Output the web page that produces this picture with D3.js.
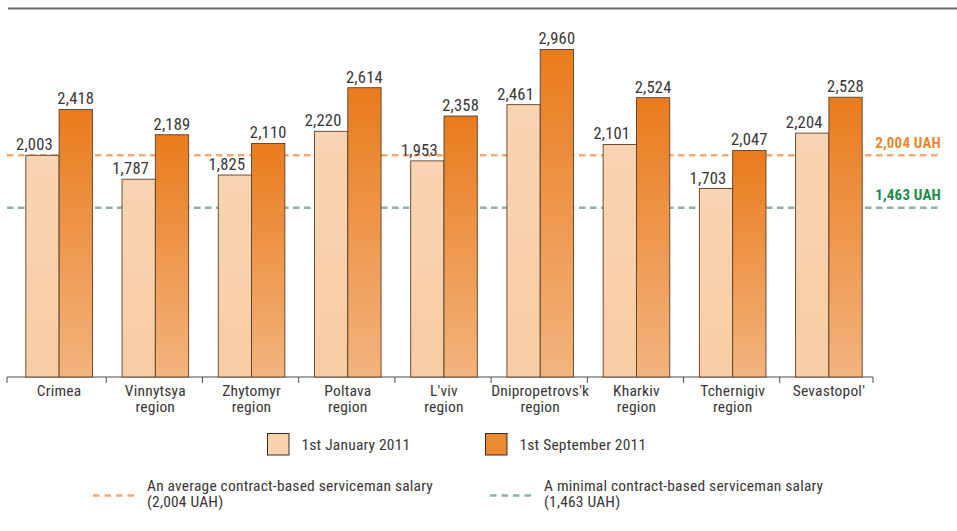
<!DOCTYPE html>
<html>
<head>
<meta charset="utf-8">
<script src="https://cdn.jsdelivr.net/npm/d3@7"></script>
<style>
  html, body { margin: 0; padding: 0; background: #fff; }
  svg { display: block; }
  text { font-family: "Liberation Sans Narrow", "Roboto Condensed", "DejaVu Sans Condensed", "Arial Narrow", sans-serif; fill: #3a3637; font-weight: 400; letter-spacing: 0.2px; }
</style>
</head>
<body>
<svg id="chart" width="957" height="531"></svg>
<script>
// ---- data ----
const categories = [
  ["Crimea"],
  ["Vinnytsya", "region"],
  ["Zhytomyr", "region"],
  ["Poltava", "region"],
  ["L'viv", "region"],
  ["Dnipropetrovs'k", "region"],
  ["Kharkiv", "region"],
  ["Tchernigiv", "region"],
  ["Sevastopol'"]
];
const jan2011 = [2003, 1787, 1825, 2220, 1953, 2461, 2101, 1703, 2204];
const sep2011 = [2418, 2189, 2110, 2614, 2358, 2960, 2524, 2047, 2528];
const seriesNames = ["1st January 2011", "1st September 2011"];
const avgSalary = 2004;      // average contract-based salary
const minSalary = 1463;      // minimal contract-based salary
const minLineDrawnAt = 1530; // level at which the reference draws the minimal line
const refLabels = ["2,004 UAH", "1,463 UAH"];
const refLegend = [
  ["An average contract-based serviceman salary", "(2,004 UAH)"],
  ["A minimal contract-based serviceman salary", "(1,463 UAH)"]
];

// ---- layout ----
const svg = d3.select("#chart");
const fmt = d3.format(",");
const x = d3.scaleBand().domain(d3.range(categories.length)).range([11, 877]).padding(0);
const axisRange = [7, 873];
const groupW = 66.6;
const y = d3.scaleLinear().domain([0, 3000]).range([377, 45]);

const defs = svg.append("defs");
const gL = defs.append("linearGradient").attr("id", "gLight").attr("x1", 0).attr("y1", 0).attr("x2", 0).attr("y2", 1);
gL.append("stop").attr("offset", "0%").attr("stop-color", "#f9d4b2");
gL.append("stop").attr("offset", "100%").attr("stop-color", "#f8cca3");
const gD = defs.append("linearGradient").attr("id", "gDark").attr("x1", 0).attr("y1", 0).attr("x2", 0).attr("y2", 1);
gD.append("stop").attr("offset", "0%").attr("stop-color", "#e97b1d");
gD.append("stop").attr("offset", "100%").attr("stop-color", "#f3b47e");

// top rule
svg.append("line").attr("x1", 8).attr("x2", 957).attr("y1", 8.5).attr("y2", 8.5)
  .attr("stroke", "#6a6a6a").attr("stroke-width", 2);

// axis
const axisG = svg.append("g");
axisG.append("line").attr("x1", axisRange[0]).attr("x2", axisRange[1]).attr("y1", y(0)).attr("y2", y(0))
  .attr("stroke", "#4d4d4d").attr("stroke-width", 1);
const tickPos = d3.range(categories.length + 1).map(i =>
  i === 0 ? axisRange[0] : (i === categories.length ? axisRange[1] : x(i) - 1));
axisG.selectAll("line.tick").data(tickPos).join("line").attr("class", "tick")
  .attr("x1", d => d).attr("x2", d => d).attr("y1", y(0)).attr("y2", y(0) + 6)
  .attr("stroke", "#4d4d4d").attr("stroke-width", 1);

const catG = svg.append("g");
categories.forEach((lines, i) => {
  const cx = x(i) + x.bandwidth() / 2;
  lines.forEach((t, j) => {
    catG.append("text").attr("x", cx).attr("y", 396 + j * 16)
      .attr("text-anchor", "middle").attr("font-size", 15.5).text(t);
  });
});

// reference dashed lines (behind bars)
const refG = svg.append("g");
refG.append("line").attr("x1", 7).attr("x2", 941).attr("y1", y(minLineDrawnAt)).attr("y2", y(minLineDrawnAt))
  .attr("stroke", "#8fb39b").attr("stroke-width", 2.5).attr("stroke-dasharray", "6.5,4.5");
refG.append("line").attr("x1", 7).attr("x2", 941).attr("y1", y(avgSalary)).attr("y2", y(avgSalary))
  .attr("stroke", "#f2aa74").attr("stroke-width", 2.5).attr("stroke-dasharray", "6.5,4.5");

// bars
const barsG = svg.append("g");
const bw = groupW / 2;
const off = i => x(i) + (x.bandwidth() - groupW) / 2;
barsG.selectAll("rect.jan").data(jan2011).join("rect").attr("class", "jan")
  .attr("x", (d, i) => off(i)).attr("y", d => y(d)).attr("width", bw).attr("height", d => y(0) - y(d))
  .attr("fill", "url(#gLight)").attr("stroke", "#5b3f2b").attr("stroke-width", 0.9);
barsG.selectAll("rect.sep").data(sep2011).join("rect").attr("class", "sep")
  .attr("x", (d, i) => off(i) + bw).attr("y", d => y(d)).attr("width", bw).attr("height", d => y(0) - y(d))
  .attr("fill", "url(#gDark)").attr("stroke", "#5b3f2b").attr("stroke-width", 0.9);

// value labels
barsG.selectAll("text.jl").data(jan2011).join("text").attr("class", "jl")
  .attr("x", (d, i) => off(i) + bw / 2 - 8).attr("y", d => y(d) - 5)
  .attr("text-anchor", "middle").attr("font-size", 16.5).text(d => fmt(d));
barsG.selectAll("text.sl").data(sep2011).join("text").attr("class", "sl")
  .attr("x", (d, i) => off(i) + bw + bw / 2).attr("y", d => y(d) - 5)
  .attr("text-anchor", "middle").attr("font-size", 16.5).text(d => fmt(d));

// reference labels at right
svg.append("text").attr("x", 941).attr("y", y(avgSalary) - 7).attr("text-anchor", "end")
  .attr("font-size", 15).style("font-weight", "bold").style("fill", "#ec862b").text(refLabels[0]);
svg.append("text").attr("x", 941).attr("y", y(minLineDrawnAt) - 8).attr("text-anchor", "end")
  .attr("font-size", 15).style("font-weight", "bold").style("fill", "#1e8a4e").text(refLabels[1]);

// legend row 1
const leg = svg.append("g");
[[267.5, "#f9d3b0"], [485.5, "#ec8a33"]].forEach(([lx, c], i) => {
  leg.append("rect").attr("x", lx).attr("y", 433.5).attr("width", 21.5).attr("height", 21.5)
    .attr("fill", c).attr("stroke", "#3a2a20").attr("stroke-width", 1);
  leg.append("text").attr("x", lx + 34).attr("y", 450).attr("font-size", 15.5).text(seriesNames[i]);
});

// legend row 2
[[93, "#f2aa74"], [490, "#8fb39b"]].forEach(([lx, c], i) => {
  leg.append("line").attr("x1", lx).attr("x2", lx + 45).attr("y1", 495.5).attr("y2", 495.5)
    .attr("stroke", c).attr("stroke-width", 2.5).attr("stroke-dasharray", "6.5,5");
  refLegend[i].forEach((t, j) => {
    leg.append("text").attr("x", lx + 54).attr("y", 491 + j * 16).attr("font-size", 15.5).text(t);
  });
});
</script>
</body>
</html>
